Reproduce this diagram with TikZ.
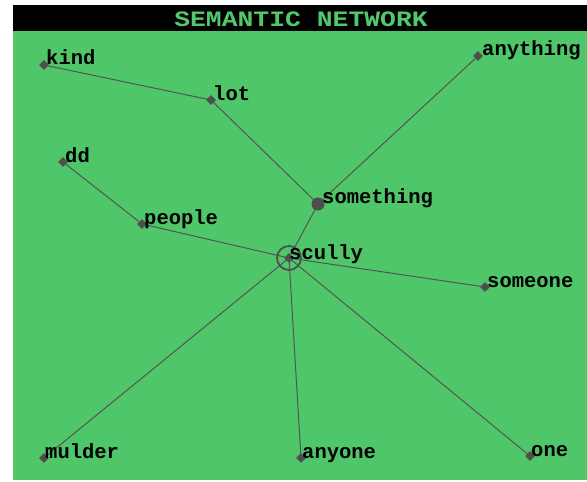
\documentclass[tikz,border=0pt]{standalone}
\usepackage{fontspec}
\usetikzlibrary{shapes.geometric}
\newfontfamily\labfont{Liberation Mono}
\definecolor{bggreen}{RGB}{80,198,106}
\definecolor{titlegreen}{RGB}{82,200,108}
\definecolor{edgegray}{RGB}{84,84,84}
\definecolor{markgray}{RGB}{78,78,78}
\tikzset{
  mk/.style={diamond,fill=markgray,inner sep=0pt,minimum size=10pt},
  lab/.style={anchor=base west,inner sep=0pt,font=\labfont\bfseries\fontsize{20.5}{21}\selectfont,text=black},
  edge/.style={draw=edgegray,line width=1pt}
}
\begin{document}
\begin{tikzpicture}[x=1pt,y=-1pt]
\useasboundingbox (0,0) rectangle (587,482);
\fill[white] (0,0) rectangle (587,482);
\fill[black] (13,5) rectangle (587,31);
\fill[bggreen] (13,31) rectangle (587,480);
\node[inner sep=0pt,text=titlegreen,font=\labfont\bfseries\fontsize{22}{22}\selectfont] (title) at (301,19) {\scalebox{1.2}[1]{SEMANTIC NETWORK}};
% positions
\coordinate (kind) at (44,65);
\coordinate (lot) at (211,100);
\coordinate (anything) at (478,56);
\coordinate (dd) at (63,162);
\coordinate (people) at (142,224);
\coordinate (something) at (318,204);
\coordinate (scully) at (289,258);
\coordinate (someone) at (485,287);
\coordinate (mulder) at (44,458);
\coordinate (anyone) at (301,458);
\coordinate (one) at (530,456);
% edges
\draw[edge] (kind) -- (lot);
\draw[edge] (lot) -- (something);
\draw[edge] (anything) -- (something);
\draw[edge] (something) -- (scully);
\draw[edge] (dd) -- (people);
\draw[edge] (people) -- (scully);
\draw[edge] (scully) -- (someone);
\draw[edge] (scully) -- (mulder);
\draw[edge] (scully) -- (anyone);
\draw[edge] (scully) -- (one);
% markers
\foreach \n in {kind,lot,anything,dd,people,someone,mulder,anyone,one}
  \node[mk] (m-\n) at (\n) {};
\node[mk] (m-scully) at (scully) {};
\node[circle,fill=markgray,inner sep=0pt,minimum size=13pt] (m-something) at (something) {};
\node[circle,draw=markgray,line width=1.8pt,inner sep=0pt,minimum size=24pt] (ring) at (scully) {};
% labels
\node[lab] (l-kind) at ([xshift=2pt,yshift=1pt]kind) {kind};
\node[lab] (l-lot) at ([xshift=2pt]lot) {lot};
\node[lab] (l-anything) at ([xshift=4pt,yshift=1pt]anything) {anything};
\node[lab] (l-dd) at ([xshift=2pt]dd) {dd};
\node[lab] (l-people) at ([xshift=2pt]people) {people};
\node[lab] (l-something) at ([xshift=4pt,yshift=1pt]something) {something};
\node[lab] (l-scully) at ([xshift=0pt,yshift=-1pt]scully) {scully};
\node[lab] (l-someone) at ([xshift=2pt]someone) {someone};
\node[lab] (l-mulder) at ([xshift=1pt]mulder) {mulder};
\node[lab] (l-anyone) at ([xshift=1pt]anyone) {anyone};
\node[lab] (l-one) at ([xshift=1pt]one) {one};
\end{tikzpicture}
\end{document}
